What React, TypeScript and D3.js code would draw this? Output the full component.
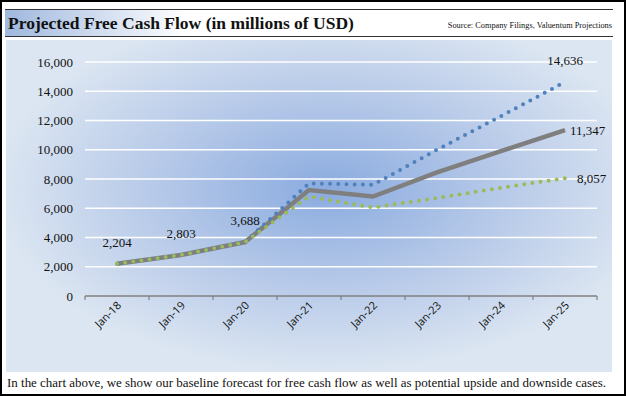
import React from "react";
import * as d3 from "d3";

const months: string[] = ["Jan-18", "Jan-19", "Jan-20", "Jan-21", "Jan-22", "Jan-23", "Jan-24", "Jan-25"];
const baseCase: number[] = [2204, 2803, 3688, 7250, 6800, 8450, 9900, 11347];
const upsideCase: number[] = [2204, 2803, 3688, 7700, 7600, 10000, 12300, 14636];
const downsideCase: number[] = [2204, 2803, 3688, 6800, 6050, 6700, 7400, 8057];
const yTicks: number[] = [0, 2000, 4000, 6000, 8000, 10000, 12000, 14000, 16000];

const width = 626;
const height = 396;
const marginLeft = 85;
const marginRight = 29;
const marginTop = 62;
const plotBottom = 296;

const fmt = d3.format(",");

const App = () => {
  const x = d3
    .scaleBand()
    .domain(months)
    .range([marginLeft, width - marginRight]);

  const y = d3.scaleLinear().domain([0, 16000]).range([plotBottom, marginTop]);

  const cx = (i: number) => Number(x(months[i])) + x.bandwidth() / 2;

  const line = d3
    .line<number>()
    .x((_, i) => cx(i))
    .y((d) => y(d));

  const serif = "'Liberation Serif', 'Times New Roman', serif";
  const sans = "'Open Sans', 'Liberation Sans', sans-serif";

  return (
    <svg
      width={width}
      height={height}
      style={{ position: "absolute", left: 0, top: 0, display: "block" }}
    >
      <defs>
        <radialGradient id="bg" cx="0.53" cy="0.45" r="0.55">
          <stop offset="0" stopColor="#8aabdf" />
          <stop offset="0.55" stopColor="#b9cbe9" />
          <stop offset="1" stopColor="#dce6f2" />
        </radialGradient>
        <linearGradient id="titleBg" x1="0" x2="1" y1="0" y2="0">
          <stop offset="0" stopColor="#9fb8de" />
          <stop offset="0.3" stopColor="#ffffff" />
          <stop offset="1" stopColor="#ffffff" />
        </linearGradient>
      </defs>
      <rect x={0} y={0} width={width} height={height} fill="#fff" />
      <rect x={1} y={1} width={width - 2} height={height - 2} fill="none" stroke="#000" strokeWidth={2} />

      {/* title band */}
      <rect x={5} y={9} width={608} height={28} fill="url(#titleBg)" />
      <line x1={5} x2={613} y1={9.5} y2={9.5} stroke="#333" strokeWidth={1} />
      <line x1={5} x2={613} y1={36.5} y2={36.5} stroke="#333" strokeWidth={1} />
      <text x={8} y={29} fontFamily={serif} fontWeight="bold" fontSize={17.5} fill="#111">
        Projected Free Cash Flow (in millions of USD)
      </text>
      <text x={612} y={28} textAnchor="end" fontFamily={serif} fontSize={8.3} fill="#111">
        Source: Company Filings, Valuentum Projections
      </text>

      {/* chart area */}
      <rect x={6} y={40} width={606} height={332} fill="url(#bg)" />

      {yTicks.map((t) => (
        <g key={t}>
          {t > 0 && (
            <line x1={marginLeft} x2={width - marginRight} y1={y(t)} y2={y(t)} stroke="#fff" strokeWidth={1.5} />
          )}
          <text
            x={73}
            y={y(t)}
            dy="0.35em"
            textAnchor="end"
            fontFamily={serif}
            fontSize={13}
            fill="#111"
          >
            {fmt(t)}
          </text>
        </g>
      ))}

      {/* x axis */}
      <line x1={marginLeft} x2={width - marginRight} y1={plotBottom} y2={plotBottom} stroke="#808080" strokeWidth={1.5} />
      {months.map((m) => (
        <line
          key={"t" + m}
          x1={Number(x(m))}
          x2={Number(x(m))}
          y1={plotBottom}
          y2={plotBottom + 4}
          stroke="#808080"
          strokeWidth={1.2}
        />
      ))}
      <line x1={width - marginRight} x2={width - marginRight} y1={plotBottom} y2={plotBottom + 4} stroke="#808080" strokeWidth={1.2} />
      {months.map((m, i) => (
        <text
          key={m}
          transform={`translate(${cx(i) + 5},${plotBottom + 10}) rotate(-45)`}
          textAnchor="end"
          fontFamily={sans}
          fontSize={11}
          fill="#111"
        >
          {m}
        </text>
      ))}

      {/* series */}
      <path d={line(baseCase) as string} fill="none" stroke="#7f7f7f" strokeWidth={4.5} strokeLinejoin="miter" />
      <path
        d={line(upsideCase) as string}
        fill="none"
        stroke="#4f81bd"
        strokeWidth={4}
        strokeLinecap="round"
        strokeDasharray="0 8.2"
      />
      <path
        d={line(downsideCase) as string}
        fill="none"
        stroke="#9bbb59"
        strokeWidth={4}
        strokeLinecap="round"
        strokeDasharray="0 8.2"
      />

      {/* data labels */}
      {[0, 1, 2].map((i) => (
        <text
          key={"l" + i}
          x={cx(i)}
          y={y(baseCase[i]) - 17}
          textAnchor="middle"
          fontFamily={serif}
          fontSize={13}
          fill="#111"
        >
          {fmt(baseCase[i])}
        </text>
      ))}
      <text x={cx(7)} y={y(upsideCase[7]) - 17} textAnchor="middle" fontFamily={serif} fontSize={13} fill="#111">
        {fmt(upsideCase[7])}
      </text>
      <text x={cx(7) + 5} y={y(baseCase[7])} dy="0.35em" fontFamily={serif} fontSize={13} fill="#111">
        {fmt(baseCase[7])}
      </text>
      <text x={cx(7) + 12} y={y(downsideCase[7])} dy="0.35em" fontFamily={serif} fontSize={13} fill="#111">
        {fmt(downsideCase[7])}
      </text>

      {/* caption */}
      <text x={7} y={387} fontFamily={serif} fontSize={13} fill="#111" textLength={599} lengthAdjust="spacingAndGlyphs">
        In the chart above, we show our baseline forecast for free cash flow as well as potential upside and downside cases.
      </text>
    </svg>
  );
};

export default App;
